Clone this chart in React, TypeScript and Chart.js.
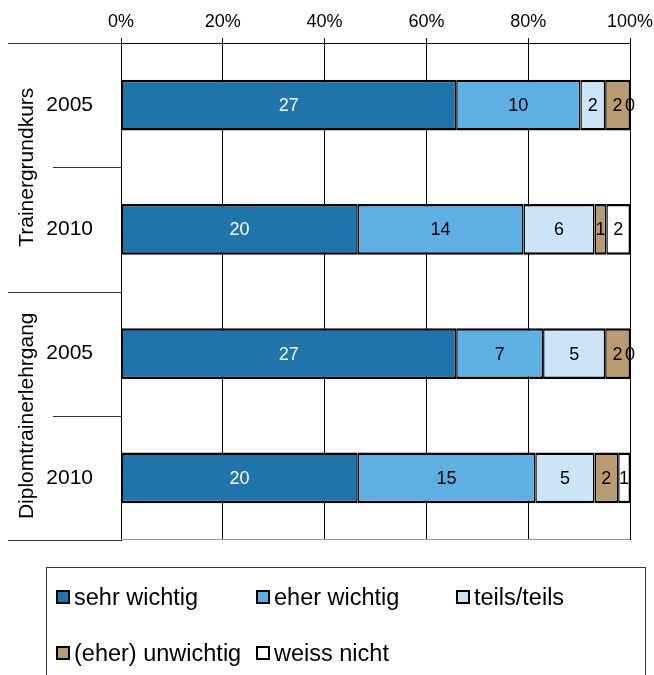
import React, { useEffect, useRef } from 'react';
import { Chart, registerables } from 'chart.js';

Chart.register(...registerables);

const FONT = '"Liberation Sans", Arial, Helvetica, sans-serif';

// ---- data ----
const groupNames = ['Trainergrundkurs', 'Diplomtrainerlehrgang'];
const rowGroup = [0, 0, 1, 1];
const years = ['2005', '2010', '2005', '2010'];
const seriesNames = ['sehr wichtig', 'eher wichtig', 'teils/teils', '(eher) unwichtig', 'weiss nicht'];
const sehrWichtig = [27, 20, 27, 20];
const eherWichtig = [10, 14, 7, 15];
const teilsTeils = [2, 6, 5, 5];
const eherUnwichtig = [2, 1, 2, 2];
const weissNicht = [0, 2, 0, 1];
const seriesColors = ['#1F74AA', '#5DAFE4', '#CCE5F6', '#BA9B6F', '#FFFFFF'];
const xTickStep = 20;

const seriesValues = [sehrWichtig, eherWichtig, teilsTeils, eherUnwichtig, weissNicht];

export default function App() {
  const ref = useRef<HTMLCanvasElement>(null);

  useEffect(() => {
    const rowTotals = years.map((_, i) => seriesValues.reduce((s, arr) => s + arr[i], 0));
    const datasets = seriesNames.map((name, k) => ({
      label: name,
      data: seriesValues[k].map((v, i) => (v / rowTotals[i]) * 100),
      counts: seriesValues[k],
      backgroundColor: seriesColors[k],
      borderColor: '#000',
      borderWidth: { top: 2.5, bottom: 2.5, left: 1.5, right: 1.5 },
      borderSkipped: false,
      inflateAmount: 0,
      categoryPercentage: 1,
      barPercentage: 0.41,
    }));

    const overlay = {
      id: 'overlay',
      afterDatasetsDraw(chart: any) {
        const { ctx, chartArea } = chart;
        const yScale = chart.scales.y;
        ctx.save();
        // value labels
        ctx.font = `18px ${FONT}`;
        ctx.textAlign = 'center';
        ctx.textBaseline = 'middle';
        chart.data.datasets.forEach((ds: any, k: number) => {
          const meta = chart.getDatasetMeta(k);
          meta.data.forEach((bar: any, i: number) => {
            const p = bar.getProps(['x', 'base', 'y'], true);
            ctx.fillStyle = k === 0 ? '#ffffff' : '#000000';
            ctx.fillText(String(ds.counts[i]), (p.x + p.base) / 2, p.y + 1);
          });
        });

        // separators on the category axis
        const n = years.length;
        const step = yScale.getPixelForValue(1) - yScale.getPixelForValue(0);
        const first = yScale.getPixelForValue(0) - step / 2;
        ctx.lineWidth = 1;
        for (let i = 0; i <= n; i++) {
          const py = Math.round(first + i * step) + 0.5;
          const isGroup = i === 0 || i === n || rowGroup[i] !== rowGroup[i - 1];
          ctx.strokeStyle = '#333333';
          ctx.beginPath();
          ctx.moveTo(isGroup ? 8 : 53, py);
          ctx.lineTo(chartArea.left, py);
          ctx.stroke();
        }
        // bottom border of plot
        ctx.strokeStyle = '#999999';
        ctx.beginPath();
        const by = Math.round(chartArea.bottom) - 0.5;
        ctx.moveTo(chartArea.left, by);
        ctx.lineTo(chartArea.right, by);
        ctx.stroke();

        // group labels
        ctx.fillStyle = '#000';
        ctx.font = `21px ${FONT}`;
        groupNames.forEach((g, gi) => {
          const rows = rowGroup.map((r, i) => (r === gi ? i : -1)).filter((i) => i >= 0);
          const cy =
            rows.reduce((s, i) => s + yScale.getPixelForValue(i), 0) / rows.length;
          ctx.save();
          ctx.translate(27, cy);
          ctx.rotate(-Math.PI / 2);
          ctx.textAlign = 'center';
          ctx.textBaseline = 'middle';
          ctx.fillText(g, 0, 0);
          ctx.restore();
        });
        ctx.restore();
      },
    };

    const chart = new Chart(ref.current as HTMLCanvasElement, {
      type: 'bar',
      data: { labels: years, datasets: datasets as any },
      options: {
        indexAxis: 'y',
        responsive: false,
        animation: false,
        devicePixelRatio: 1,
        layout: { padding: { top: 0, left: 0, right: 24, bottom: 135 } },
        plugins: { legend: { display: false }, tooltip: { enabled: false } },
        scales: {
          x: {
            position: 'top',
            stacked: true,
            min: 0,
            max: 100,
            ticks: {
              stepSize: xTickStep,
              callback: (v: any) => v + '%',
              color: '#000',
              font: { family: FONT, size: 18 },
              padding: 5,
            },
            grid: { color: '#000', lineWidth: 1, tickLength: 5, drawTicks: true },
            border: { display: true, color: '#000', width: 1 },
            afterFit(s: any) {
              s.height = 43;
              s.paddingLeft = 0;
              s.paddingRight = 0;
            },
          },
          y: {
            stacked: true,
            ticks: { color: '#000', font: { family: FONT, size: 21 }, padding: 20 },
            grid: { display: false },
            border: { display: true, color: '#000', width: 1 },
            afterFit(s: any) {
              s.width = 121;
              s.paddingTop = 0;
              s.paddingBottom = 0;
            },
          },
        },
      } as any,
      plugins: [overlay],
    });
    return () => chart.destroy();
  }, []);

  return (
    <div
      style={{
        position: 'absolute',
        left: 0,
        top: 0,
        width: 654,
        height: 675,
        overflow: 'hidden',
        background: '#fff',
        fontFamily: FONT,
      }}
    >
      <canvas ref={ref} width={654} height={675} style={{ display: 'block' }} />
      <div
        style={{
          position: 'absolute',
          left: 46,
          top: 567,
          width: 600,
          height: 140,
          border: '1px solid #333',
          boxSizing: 'border-box',
        }}
      />
      {seriesNames.map((name, k) => {
        const col = k % 3;
        const row = Math.floor(k / 3);
        const left = 56 + col * 200;
        const cy = row === 0 ? 597 : 653;
        return (
          <React.Fragment key={name}>
            <div
              style={{
                position: 'absolute',
                left,
                top: cy - 7,
                width: 14,
                height: 14,
                boxSizing: 'border-box',
                border: '2px solid #000',
                background: seriesColors[k],
              }}
            />
            <div
              style={{
                position: 'absolute',
                left: left + 18,
                top: cy - 13,
                height: 26,
                lineHeight: '26px',
                fontSize: 23.5,
                color: '#000',
                whiteSpace: 'nowrap',
              }}
            >
              {name}
            </div>
          </React.Fragment>
        );
      })}
    </div>
  );
}
